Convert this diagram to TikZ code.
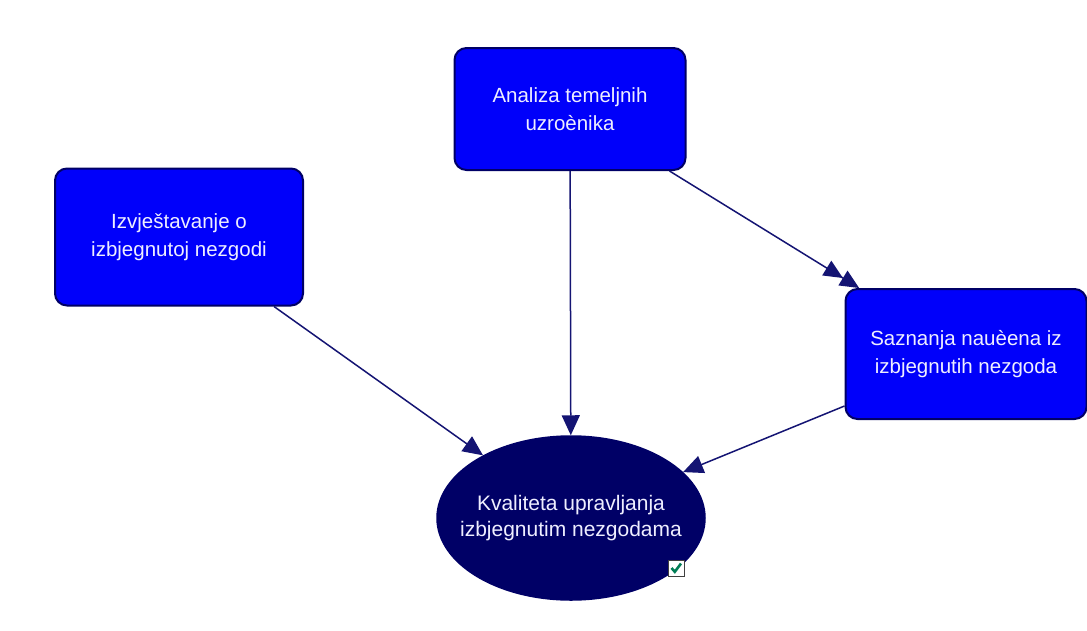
\documentclass[tikz,border=0pt]{standalone}
\usepackage{fontspec}
\setmainfont{Liberation Sans}
\usetikzlibrary{shapes.geometric,arrows.meta,calc}
\definecolor{boxblue}{RGB}{0,0,250}
\definecolor{navy}{RGB}{0,0,102}
\definecolor{edgecol}{RGB}{20,20,115}
\definecolor{txt}{RGB}{238,238,255}
\definecolor{checkgreen}{RGB}{0,125,85}
\begin{document}
\begin{tikzpicture}[x=1pt,y=-1pt,
  box/.style={draw=navy, line width=2pt, fill=boxblue, rounded corners=12pt, text=txt,
    font=\fontsize{20.5}{28}\selectfont, align=center, inner sep=0pt},
  oval/.style={ellipse, draw=navy, line width=1.5pt, fill=navy, text=txt,
    font=\fontsize{21}{26}\selectfont, align=center, inner ysep=0pt, inner xsep=-38pt},
  conn/.style={draw=edgecol, line width=1.5pt, -{Triangle[length=20pt,width=18pt]}},
  conntwo/.style={draw=edgecol, line width=1.5pt,
    -{Triangle[length=19pt,width=17pt] Triangle[length=19pt,width=17pt]}},
  chkbox/.style={draw=black!75, fill=white, minimum size=16pt, inner sep=0pt, line width=1pt},
]
\useasboundingbox (0,0) rectangle (1087,630);
\fill[white] (0,0) rectangle (1087,630);

\node[box, minimum width=231pt, minimum height=122pt] (A) at (570,109) {Analiza temeljnih\\uzroènika};
\node[box, minimum width=248pt, minimum height=137pt] (I) at (179,237) {Izvještavanje o\\izbjegnutoj nezgodi};
\node[box, minimum width=241pt, minimum height=130pt] (S) at (966,354) {Saznanja nauèena iz\\izbjegnutih nezgoda};
\node[oval, minimum width=268pt, minimum height=164pt] (K) at (571,518) {Kvaliteta upravljanja\\izbjegnutim nezgodama};

\coordinate (Is) at ($(I.south west)+(220,0)$);
\coordinate (As) at ($(A.south west)+(216,0)$);
\coordinate (Ss) at ($(S.south west)+(0,-14)$);

\draw[conn] (Is) -- (K);
\draw[conn] (A) -- (K);
\draw[conntwo] (As) -- (S);
\draw[conn] (Ss) -- (K);

\node[chkbox] (chk) at (676,568) {};
\draw[checkgreen, line width=2.6pt] ($(chk.center)+(-4.5,0)$) -- ($(chk.center)+(-1.2,3.8)$) -- ($(chk.center)+(5,-4.5)$);
\end{tikzpicture}
\end{document}
